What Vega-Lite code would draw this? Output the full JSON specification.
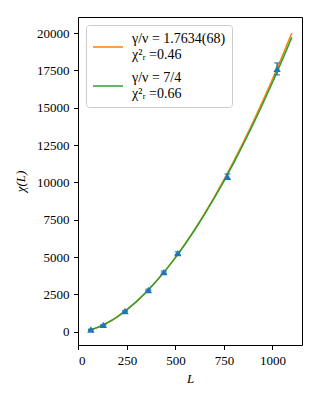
{
  "$schema": "https://vega.github.io/schema/vega-lite/v6.json",
  "autosize": "none",
  "width": 224,
  "height": 328,
  "padding": {"left": 78, "top": 17, "right": 18, "bottom": 55},
  "background": "white",
  "config": {
    "view": {"stroke": "black", "strokeWidth": 1},
    "axis": {
      "domain": false,
      "grid": false,
      "tickColor": "black",
      "tickSize": 4.5,
      "tickWidth": 1,
      "labelFont": "Liberation Serif",
      "labelFontSize": 13,
      "labelColor": "black",
      "labelPadding": 4.5,
      "titleFont": "Liberation Serif",
      "titleFontSize": 13,
      "titleFontStyle": "italic",
      "titleFontWeight": "normal",
      "titleColor": "black"
    },
    "legend": {
      "labelFont": "Liberation Serif",
      "labelFontSize": 14,
      "labelColor": "black"
    }
  },
  "datasets": {
    "fits": [
      {"L": 50, "chi": 85.9, "s": "a"},
      {"L": 100, "chi": 291.5, "s": "a"},
      {"L": 150, "chi": 595.9, "s": "a"},
      {"L": 200, "chi": 989.7, "s": "a"},
      {"L": 300, "chi": 2023.1, "s": "a"},
      {"L": 400, "chi": 3359.9, "s": "a"},
      {"L": 500, "chi": 4979.5, "s": "a"},
      {"L": 600, "chi": 6868.5, "s": "a"},
      {"L": 700, "chi": 9013.9, "s": "a"},
      {"L": 800, "chi": 11407, "s": "a"},
      {"L": 900, "chi": 14040, "s": "a"},
      {"L": 1000, "chi": 16907, "s": "a"},
      {"L": 1100, "chi": 20000, "s": "a"},
      {"L": 50, "chi": 88.2, "s": "b"},
      {"L": 100, "chi": 296.7, "s": "b"},
      {"L": 150, "chi": 603.1, "s": "b"},
      {"L": 200, "chi": 997.8, "s": "b"},
      {"L": 300, "chi": 2028.7, "s": "b"},
      {"L": 400, "chi": 3356.2, "s": "b"},
      {"L": 500, "chi": 4959.6, "s": "b"},
      {"L": 600, "chi": 6823.6, "s": "b"},
      {"L": 700, "chi": 8936.6, "s": "b"},
      {"L": 800, "chi": 11289, "s": "b"},
      {"L": 900, "chi": 13873, "s": "b"},
      {"L": 1000, "chi": 16682, "s": "b"},
      {"L": 1100, "chi": 19710, "s": "b"}
    ],
    "pts": [
      {"L": 64, "chi": 150, "lo": 140, "hi": 160},
      {"L": 128, "chi": 455, "lo": 440, "hi": 470},
      {"L": 240, "chi": 1385, "lo": 1355, "hi": 1415},
      {"L": 360, "chi": 2790, "lo": 2740, "hi": 2840},
      {"L": 440, "chi": 3990, "lo": 3920, "hi": 4060},
      {"L": 512, "chi": 5260, "lo": 5170, "hi": 5350},
      {"L": 768, "chi": 10380, "lo": 10200, "hi": 10560},
      {"L": 1024, "chi": 17600, "lo": 17200, "hi": 18000}
    ]
  },
  "layer": [
    {
      "data": {"name": "fits"},
      "mark": {"type": "line", "strokeWidth": 1.5, "interpolate": "monotone"},
      "encoding": {
        "x": {"field": "L", "type": "quantitative", "scale": {"domain": [-2.5, 1152.5], "nice": false, "zero": false},
              "axis": {"values": [0, 250, 500, 750, 1000], "format": "d", "title": "L", "titlePadding": 5}},
        "y": {"field": "chi", "type": "quantitative", "scale": {"domain": [-892, 21073], "nice": false, "zero": false},
              "axis": {"values": [0, 2500, 5000, 7500, 10000, 12500, 15000, 17500, 20000], "format": "d", "title": "χ(L)", "titlePadding": 9}},
        "color": {
          "field": "s", "type": "nominal",
          "scale": {"domain": ["a", "b"], "range": ["#ff7f0e", "#2ca02c"]},
          "legend": {
            "title": null,
            "orient": "top-left",
            "offset": 8,
            "padding": 6,
            "strokeColor": "#cccccc",
            "fillColor": "white",
            "cornerRadius": 3,
            "symbolType": "stroke",
            "symbolStrokeWidth": 1.5,
            "symbolSize": 900,
            "rowPadding": 8,
            "labelOffset": 8,
            "labelBaseline": "line-bottom",
            "labelLineHeight": 13.7,
            "labelExpr": "datum.value == 'a' ? ['γ/ν = 1.7634(68)', 'χ²ᵣ =0.46'] : ['γ/ν = 7/4', 'χ²ᵣ =0.66']"
          }
        }
      }
    },
    {
      "data": {"name": "pts"},
      "mark": {"type": "rule", "color": "#1f77b4", "strokeWidth": 1.5},
      "encoding": {
        "x": {"field": "L", "type": "quantitative"},
        "y": {"field": "lo", "type": "quantitative"},
        "y2": {"field": "hi"}
      }
    },
    {
      "data": {"name": "pts"},
      "mark": {"type": "tick", "color": "#1f77b4", "orient": "horizontal", "size": 6, "thickness": 1.5},
      "encoding": {
        "x": {"field": "L", "type": "quantitative"},
        "y": {"field": "lo", "type": "quantitative"}
      }
    },
    {
      "data": {"name": "pts"},
      "mark": {"type": "tick", "color": "#1f77b4", "orient": "horizontal", "size": 6, "thickness": 1.5},
      "encoding": {
        "x": {"field": "L", "type": "quantitative"},
        "y": {"field": "hi", "type": "quantitative"}
      }
    },
    {
      "data": {"name": "pts"},
      "mark": {"type": "point", "shape": "triangle-up", "filled": true, "color": "#1f77b4", "opacity": 1, "size": 55},
      "encoding": {
        "x": {"field": "L", "type": "quantitative"},
        "y": {"field": "chi", "type": "quantitative"}
      }
    }
  ]
}
